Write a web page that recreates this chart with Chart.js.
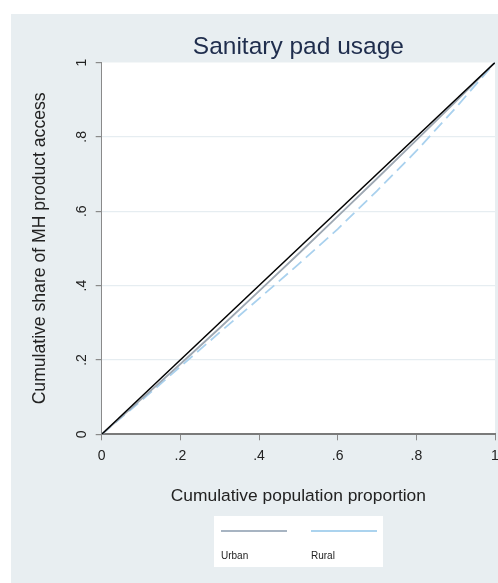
<!DOCTYPE html>
<html>
<head>
<meta charset="utf-8">
<script src="https://cdn.jsdelivr.net/npm/chart.js@4/dist/chart.umd.min.js"></script>
<style>
  html, body { margin: 0; padding: 0; background: #ffffff; }
  #wrap { width: 498px; height: 583px; }
</style>
</head>
<body>
<div id="wrap"><canvas id="lorenz" width="498" height="583"></canvas></div>
<script>
// cumulative population proportion (x) and cumulative share of access (y)
const popShare   = [0, 0.1, 0.2, 0.3, 0.4, 0.5, 0.6, 0.7, 0.8, 0.9, 1];
const urbanShare = [0, 0.094, 0.189, 0.286, 0.385, 0.485, 0.586, 0.688, 0.791, 0.895, 1];
const ruralShare = [0, 0.090, 0.182, 0.274, 0.365, 0.457, 0.552, 0.655, 0.762, 0.878, 1];
const equalityX  = [0, 1];
const equalityY  = [0, 1];
const tickValues = [0, 0.2, 0.4, 0.6, 0.8, 1];
const tickLabels = ["0", ".2", ".4", ".6", ".8", "1"];

const FONT = "'Liberation Sans', Arial, Helvetica, sans-serif";
const BG_GRAY = "#e8eef1";

function toPoints(xs, ys) {
  return xs.map((x, i) => ({ x: x, y: ys[i] }));
}

function tickText(value) {
  const i = tickValues.findIndex(v => Math.abs(v - value) < 1e-9);
  return i >= 0 ? tickLabels[i] : "";
}

// backgrounds: white strip, gray graph region, white plot region
const backgroundPlugin = {
  id: "backgrounds",
  beforeDraw(chart) {
    const { ctx, chartArea } = chart;
    ctx.save();
    ctx.fillStyle = "#ffffff";
    ctx.fillRect(0, 0, chart.width, chart.height);
    ctx.fillStyle = BG_GRAY;
    ctx.fillRect(11, 14, chart.width - 11, chart.height - 14);
    ctx.fillStyle = "#ffffff";
    ctx.fillRect(chartArea.left, chartArea.top,
      chartArea.right - chartArea.left, chartArea.bottom - chartArea.top);
    ctx.restore();
  }
};

// Stata-style legend: line sample above its label, inside a white box
const legendPlugin = {
  id: "stataLegend",
  afterDraw(chart) {
    const { ctx } = chart;
    const items = chart.data.datasets.filter(d => d.inLegend);
    const boxX = 214, boxY = 516, boxW = 169, boxH = 51;
    ctx.save();
    ctx.fillStyle = "#ffffff";
    ctx.fillRect(boxX, boxY, boxW, boxH);
    items.forEach((d, i) => {
      const x0 = 221 + i * 90;
      ctx.strokeStyle = d.legendColor;
      ctx.lineWidth = 2;
      ctx.setLineDash([]);
      ctx.beginPath();
      ctx.moveTo(x0, 531);
      ctx.lineTo(x0 + 66, 531);
      ctx.stroke();
      ctx.fillStyle = "#222222";
      ctx.font = "10px " + FONT;
      ctx.textBaseline = "middle";
      ctx.textAlign = "left";
      ctx.fillText(d.label, x0, 556);
    });
    ctx.restore();
  }
};

new Chart(document.getElementById("lorenz"), {
  type: "scatter",
  data: {
    datasets: [
      {
        label: "Equality",
        data: toPoints(equalityX, equalityY),
        showLine: true,
        borderColor: "#000000",
        borderWidth: 1.5,
        pointRadius: 0,
        inLegend: false
      },
      {
        label: "Urban",
        data: toPoints(popShare, urbanShare),
        showLine: true,
        borderColor: "#9ea8b3",
        legendColor: "#a7b4c2",
        borderWidth: 1.8,
        pointRadius: 0,
        inLegend: true
      },
      {
        label: "Rural",
        data: toPoints(popShare, ruralShare),
        showLine: true,
        borderColor: "#a9d1ee",
        legendColor: "#abd3ee",
        borderWidth: 1.8,
        borderDash: [12, 6],
        pointRadius: 0,
        inLegend: true
      }
    ]
  },
  options: {
    responsive: false,
    animation: false,
    devicePixelRatio: 1,
    layout: { padding: { left: 0, top: 14, right: 3, bottom: 73.7 } },
    plugins: {
      legend: { display: false },
      tooltip: { enabled: false },
      title: {
        display: true,
        fullSize: false,
        text: "Sanitary pad usage",
        color: "#1f2d4d",
        font: { family: FONT, size: 24.5, weight: "normal" },
        padding: { top: 18.6, bottom: 0.5 }
      }
    },
    scales: {
      x: {
        type: "linear",
        min: 0,
        max: 1,
        afterFit(scale) { scale.height = 75; scale.paddingRight = 0; scale.paddingLeft = 0; },
        afterBuildTicks(scale) { scale.ticks = tickValues.map(v => ({ value: v })); },
        ticks: {
          callback: tickText,
          color: "#222222",
          font: { family: FONT, size: 14 },
          padding: 7,
          maxRotation: 0
        },
        grid: { drawOnChartArea: false, tickColor: "#8a8a8a", tickLength: 6 },
        border: { color: "#7a7a7a", width: 2 },
        title: {
          display: true,
          text: "Cumulative population proportion",
          color: "#222222",
          font: { family: FONT, size: 17.4 },
          padding: { bottom: 3.1 }
        }
      },
      y: {
        type: "linear",
        min: 0,
        max: 1,
        afterFit(scale) { scale.width = 101.7; scale.paddingTop = 0; scale.paddingBottom = 0; },
        afterBuildTicks(scale) { scale.ticks = tickValues.map(v => ({ value: v })); },
        ticks: {
          callback: tickText,
          color: "#222222",
          font: { family: FONT, size: 14 },
          padding: 8,
          minRotation: 90,
          maxRotation: 90,
          crossAlign: "center"
        },
        grid: {
          color: ctx => (ctx.tick && (ctx.tick.value === 0 || ctx.tick.value === 1)) ? "rgba(0,0,0,0)" : "#e6edf1",
          tickColor: "#8a8a8a",
          tickLength: 6,
          lineWidth: 1.2
        },
        border: { color: "#8a8a8a", width: 1 },
        title: {
          display: true,
          text: "Cumulative share of MH product access",
          color: "#222222",
          font: { family: FONT, size: 17.6 },
          padding: { top: 29.5 }
        }
      }
    }
  },
  plugins: [backgroundPlugin, legendPlugin]
});
</script>
</body>
</html>
